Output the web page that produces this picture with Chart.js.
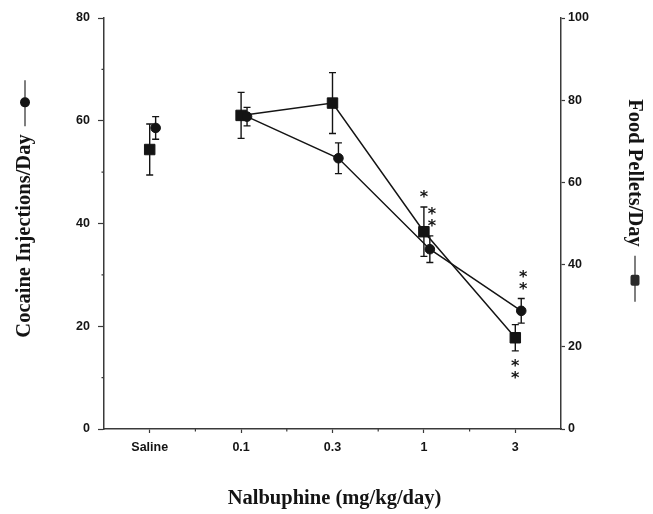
<!DOCTYPE html>
<html>
<head>
<meta charset="utf-8">
<script src="https://cdn.jsdelivr.net/npm/chart.js@4.4.0/dist/chart.umd.min.js"></script>
<style>
  html, body { margin: 0; padding: 0; background: #fff; }
</style>
</head>
<body>
<canvas id="chart" width="653" height="514"></canvas>
<script>
// values
const doses = ['Saline', '0.1', '0.3', '1', '3'];
const cocaineMean = [58.6, 60.8, 52.7, 35.0, 23.0];
const cocaineSem = [2.2, 1.8, 3.0, 2.6, 2.4];
const foodMean = [68.0, 76.3, 79.3, 48.0, 22.2];
const foodSem = [6.2, 5.6, 7.4, 6.0, 3.2];
const cocaineSig = ['', '', '', '**', '**'];
const foodSig = ['', '', '', '*', '**'];
const cocaineTicks = [0, 20, 40, 60, 80];
const foodTicks = [0, 20, 40, 60, 80, 100];

const INK = '#141414';
const AXIS = '#3a3a3a';
const DODGE = 0.065; // circles sit a little right of the squares
const TICK_FONT = { family: 'Liberation Sans, Arial, sans-serif', size: 12.5, weight: 'bold' };
const TITLE_FONT = 'bold 20.5px "Liberation Serif", "Times New Roman", serif';

function fixedSize(prop, val) {
  return function(scale) { scale[prop] = val; };
}

// error bars drawn under the markers
const errorBars = {
  id: 'errorBars',
  beforeDatasetsDraw(chart) {
    const { ctx, scales } = chart;
    ctx.save();
    ctx.strokeStyle = INK;
    ctx.lineWidth = 1.4;
    chart.data.datasets.forEach(ds => {
      const ys = scales[ds.yAxisID];
      ds.data.forEach((p, i) => {
        const px = scales.x.getPixelForValue(p.x);
        const top = ys.getPixelForValue(p.y + ds.err[i]);
        const bot = ys.getPixelForValue(p.y - ds.err[i]);
        ctx.beginPath();
        ctx.moveTo(px, top); ctx.lineTo(px, bot);
        ctx.moveTo(px - 3.5, top); ctx.lineTo(px + 3.5, top);
        ctx.moveTo(px - 3.5, bot); ctx.lineTo(px + 3.5, bot);
        ctx.stroke();
      });
    });
    ctx.restore();
  }
};

// significance asterisks, stacked beyond the end of the error bar
const stars = {
  id: 'stars',
  afterDatasetsDraw(chart) {
    const { ctx, scales } = chart;
    const [coc, food] = chart.data.datasets;
    ctx.save();
    ctx.fillStyle = INK;
    ctx.font = 'bold 16px "DejaVu Sans", sans-serif';
    ctx.textAlign = 'center';
    const m = ctx.measureText('*');
    const mid = (m.actualBoundingBoxAscent - m.actualBoundingBoxDescent) / 2;
    chart.data.datasets.forEach(ds => {
      const ys = scales[ds.yAxisID];
      ds.sig.forEach((s, i) => {
        if (!s) return;
        const p = ds.data[i];
        let below = false;
        if (ds === food) {
          const cy = scales.y.getPixelForValue(coc.data[i].y);
          below = ys.getPixelForValue(p.y) > cy;
        }
        const px = scales.x.getPixelForValue(p.x) + (ds === coc ? 2 : 0);
        const end = ys.getPixelForValue(below ? p.y - ds.err[i] : p.y + ds.err[i]);
        for (let k = 0; k < s.length; k++) {
          const cy = below ? end + 12 + k * 12 : end - 13 - k * 12;
          ctx.fillText('*', px, cy + mid);
        }
      });
    });
    ctx.restore();
  }
};

// minor ticks, axis titles and the little legend glyphs beside them
const decorations = {
  id: 'decorations',
  afterDraw(chart) {
    const { ctx, chartArea: a, scales: { x, y } } = chart;
    ctx.save();
    ctx.strokeStyle = AXIS;
    ctx.lineWidth = 1.2;
    ctx.beginPath();
    for (let i = 0; i < doses.length - 1; i++) {
      const px = x.getPixelForValue(i + 0.5);
      ctx.moveTo(px, a.bottom); ctx.lineTo(px, a.bottom + 2.5);
    }
    for (let v = 10; v < 80; v += 20) {
      const py = y.getPixelForValue(v);
      ctx.moveTo(a.left, py); ctx.lineTo(a.left - 2.5, py);
    }
    ctx.stroke();

    ctx.fillStyle = INK;
    ctx.font = TITLE_FONT;
    ctx.textAlign = 'center';
    ctx.textBaseline = 'middle';

    // x title
    ctx.fillText('Nalbuphine (mg/kg/day)', (a.left + a.right) / 2 + 2, 499);

    // left title + circle glyph
    const leftText = 'Cocaine Injections/Day';
    const lw = ctx.measureText(leftText).width;
    ctx.save();
    ctx.translate(25, 236);
    ctx.rotate(-Math.PI / 2);
    ctx.fillText(leftText, 0, 0);
    ctx.restore();
    const gTop = 236 - lw / 2 - 8;
    ctx.strokeStyle = '#555';
    ctx.lineWidth = 1.5;
    ctx.beginPath();
    ctx.moveTo(25, gTop); ctx.lineTo(25, gTop - 46);
    ctx.stroke();
    ctx.beginPath();
    ctx.arc(25, gTop - 24, 5, 0, Math.PI * 2);
    ctx.fill();

    // right title + square glyph
    const rightText = 'Food Pellets/Day';
    const rw = ctx.measureText(rightText).width;
    ctx.save();
    ctx.translate(634, 173);
    ctx.rotate(Math.PI / 2);
    ctx.fillText(rightText, 0, 0);
    ctx.restore();
    const gStart = 173 + rw / 2 + 9;
    ctx.beginPath();
    ctx.moveTo(635, gStart); ctx.lineTo(635, gStart + 46);
    ctx.stroke();
    ctx.fillStyle = '#2a2a2a';
    ctx.beginPath();
    ctx.roundRect(635 - 4.5, gStart + 19, 9, 11, 2);
    ctx.fill();
    ctx.restore();
  }
};

new Chart(document.getElementById('chart'), {
  type: 'line',
  data: {
    datasets: [
      {
        label: 'Cocaine Injections/Day',
        yAxisID: 'y',
        data: cocaineMean.map((v, i) => ({ x: i + DODGE, y: v })),
        err: cocaineSem,
        sig: cocaineSig,
        borderColor: INK,
        borderWidth: 1.5,
        pointStyle: 'circle',
        pointRadius: 4.8,
        pointBackgroundColor: INK,
        pointBorderColor: INK,
        pointBorderWidth: 1,
        segment: { borderColor: c => c.p0DataIndex === 0 ? 'rgba(0,0,0,0)' : INK }
      },
      {
        label: 'Food Pellets/Day',
        yAxisID: 'y2',
        data: foodMean.map((v, i) => ({ x: i, y: v })),
        err: foodSem,
        sig: foodSig,
        borderColor: INK,
        borderWidth: 1.5,
        pointStyle: 'rect',
        pointRadius: 7.4,
        pointBackgroundColor: INK,
        pointBorderColor: INK,
        pointBorderWidth: 1,
        segment: { borderColor: c => c.p0DataIndex === 0 ? 'rgba(0,0,0,0)' : INK }
      }
    ]
  },
  options: {
    responsive: false,
    animation: false,
    layout: { padding: { top: 18, left: 0, right: 0, bottom: 0 } },
    plugins: { legend: { display: false }, tooltip: { enabled: false } },
    scales: {
      x: {
        type: 'linear',
        position: 'bottom',
        min: -0.5,
        max: doses.length - 0.5,
        afterBuildTicks: s => { s.ticks = doses.map((d, i) => ({ value: i })); },
        afterFit: fixedSize('height', 85),
        ticks: { callback: v => doses[v], color: INK, font: TICK_FONT, padding: 7, maxRotation: 0 },
        grid: { drawOnChartArea: false, tickLength: 4, tickColor: AXIS, tickWidth: 1.2 },
        border: { color: AXIS, width: 1.5 }
      },
      y: {
        position: 'left',
        min: 0,
        max: 80,
        afterBuildTicks: s => { s.ticks = cocaineTicks.map(v => ({ value: v })); },
        afterFit: fixedSize('width', 104),
        ticks: { color: INK, font: TICK_FONT, padding: 8 },
        grid: { drawOnChartArea: false, tickLength: 6, tickColor: AXIS, tickWidth: 1.2 },
        border: { color: AXIS, width: 1.5 }
      },
      y2: {
        position: 'right',
        min: 0,
        max: 100,
        afterBuildTicks: s => { s.ticks = foodTicks.map(v => ({ value: v })); },
        afterFit: fixedSize('width', 92),
        ticks: { color: INK, font: TICK_FONT, padding: 3 },
        grid: { drawOnChartArea: false, tickLength: 4, tickColor: AXIS, tickWidth: 1.2 },
        border: { color: AXIS, width: 1.5 }
      }
    }
  },
  plugins: [errorBars, stars, decorations]
});
</script>
</body>
</html>
